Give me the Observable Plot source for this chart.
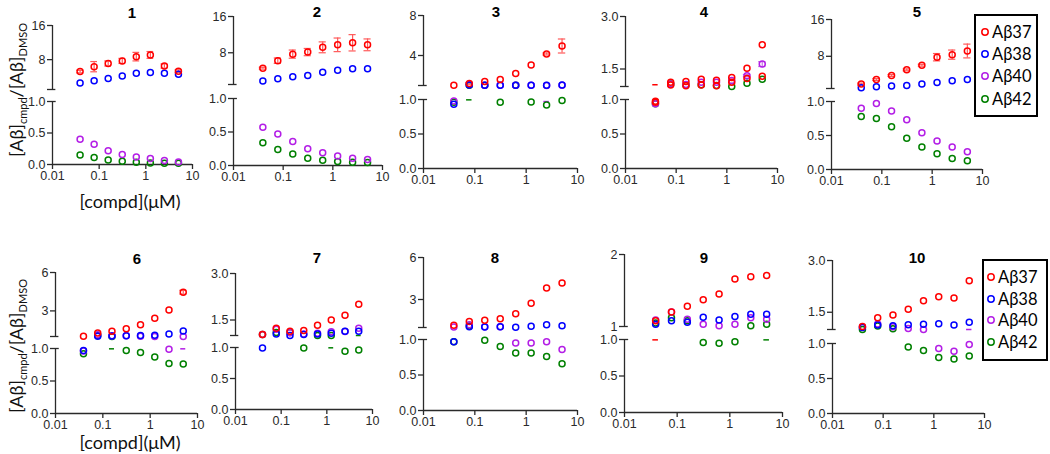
<!DOCTYPE html>
<html><head><meta charset="utf-8">
<script src="https://cdn.jsdelivr.net/npm/d3@7"></script>
<script src="https://cdn.jsdelivr.net/npm/@observablehq/plot@0.6"></script>
<style>
body{margin:0;background:#fff;}
#fig{position:relative;width:1050px;height:454px;overflow:hidden;font-family:"Liberation Sans",Arial,sans-serif;background:#fff;}
.ttl{position:absolute;transform:translate(-50%,-50%);font-weight:bold;font-size:15px;line-height:1;color:#000;}
.ylab{position:absolute;transform:translate(-50%,-50%) rotate(-90deg);font-family:Lato,sans-serif;font-size:18px;line-height:1;white-space:nowrap;color:#111;}
.ylab sub{font-size:11px;vertical-align:-4px;}
.xlab{position:absolute;transform:translate(-50%,-50%);font-family:Lato,sans-serif;font-size:18px;line-height:1;white-space:nowrap;color:#111;}
.legend{position:absolute;border:2px solid #000;box-sizing:border-box;background:#fff;}
.lgtext{position:absolute;transform:translateY(-50%);font-family:Lato,sans-serif;font-size:16.5px;line-height:1;white-space:nowrap;color:#000;}
</style></head>
<body><div id="fig"></div>
<script>
// ---------------- data ----------------
const conc = [0.039, 0.078, 0.156, 0.3125, 0.625, 1.25, 2.5, 5];
const seriesNames = ["Aβ37", "Aβ38", "Aβ40", "Aβ42"];
const panelTitles = ["1","2","3","4","5","6","7","8","9","10"];
const topTicks = [[1,8,16],[1,8,16],[1,4,8],[1,1.5,3],[1,8,16],[1,3,6],[1,1.5,3],[1,3,6],[1,2],[1,1.5,3]];
const topTickLabels = [["","8","16"],["","8","16"],["","4","8"],["","1.5","3.0"],["","8","16"],["","3","6"],["","1.5","3.0"],["","3","6"],["1","2"],["","1.5","3.0"]];
const bottomTicks = [0, 0.5, 1];
const bottomTickLabels = ["0.0", "0.5", "1.0"];
const xTicks = [0.01, 0.1, 1, 10];
const xTickLabels = ["0.01", "0.1", "1", "10"];

const ab37 = [
  [5.2, 6.35, 7.1, 7.7, 8.7, 9.1, 6.5, 5.3],
  [4.6, 6.25, 7.7, 8.15, 9.2, 9.75, 10.2, 9.75],
  [1.02, 1.2, 1.4, 1.6, 2.2, 3.05, 4.15, 4.95],
  [0.975, 1.12, 1.14, 1.21, 1.18, 1.26, 1.52, 2.19],
  [1.96, 2.96, 3.83, 5.05, 6.06, 7.8, 8.36, 9.15],
  [1.01, 1.28, 1.41, 1.6, 1.91, 2.42, 3.08, 4.46],
  [1.03, 1.23, 1.14, 1.16, 1.33, 1.5, 1.65, 2.01],
  [1.16, 1.42, 1.51, 1.63, 1.98, 2.74, 3.83, 4.18],
  [1.08, 1.2, 1.28, 1.37, 1.45, 1.66, 1.69, 1.71],
  [1.09, 1.34, 1.42, 1.59, 1.83, 1.95, 1.91, 2.41]
];
const ab37err = [
  [0.3, 1.2, 0.6, 0.6, 1.0, 0.8, 0.5, 0.3],
  [0.2, 0.6, 0.9, 0.8, 1.2, 1.5, 1.8, 1.3],
  [0, 0.08, 0, 0, 0, 0, 0.1, 0.7],
  [0, 0, 0, 0, 0, 0, 0, 0],
  [0.2, 0.2, 0.2, 0.2, 0.2, 0.8, 1.0, 1.5],
  [0, 0, 0, 0, 0, 0, 0, 0.15],
  [0, 0, 0, 0, 0, 0, 0, 0],
  [0, 0, 0, 0, 0, 0, 0, 0],
  [0, 0, 0, 0, 0, 0, 0, 0],
  [0, 0, 0, 0, 0, 0, 0, 0]
];
const ab38 = [
  [2.5, 3.05, 3.6, 4.15, 4.8, 5.0, 4.8, 4.55],
  [1.75, 2.25, 2.7, 3.0, 3.7, 4.15, 4.45, 4.45],
  [0.93, 1.05, 1.02, 1.02, 1.02, 1.02, 1.02, 1.06],
  [0.96, 1.04, 1.02, 1.04, 1.02, 1.12, 1.23, 1.29],
  [1.17, 1.38, 1.53, 1.67, 1.96, 2.3, 2.68, 2.96],
  [0.97, 1.02, 1.03, 1.06, 1.08, 1.1, 1.2, 1.43],
  [0.99, 1.05, 1.0, 1.03, 1.05, 1.07, 1.14, 1.14],
  [0.97, 1.06, 1.04, 1.06, 1.02, 1.09, 1.2, 1.13],
  [1.03, 1.08, 1.06, 1.13, 1.09, 1.14, 1.17, 1.17],
  [1.06, 1.13, 1.11, 1.14, 1.15, 1.17, 1.13, 1.21]
];
const ab40 = [
  [0.40, 0.32, 0.22, 0.16, 0.12, 0.095, 0.063, 0.04],
  [0.57, 0.47, 0.36, 0.25, 0.19, 0.14, 0.11, 0.09],
  [0.98, 1.1, 1.03, 1.02, 1.02, 1.02, 1.0, 1.02],
  [0.94, 1.07, 1.06, 1.12, 1.12, 1.17, 1.31, 1.64],
  [0.90, 0.97, 0.86, 0.73, 0.54, 0.42, 0.33, 0.26],
  [0.96, 1.14, 1.05, 1.05, 1.01, 1.0, 0.99, 1.0],
  [1.03, 1.2, 1.09, 1.05, 1.07, 1.12, 1.13, 1.23],
  [1.04, 1.2, 1.05, 1.05, 0.95, 0.95, 0.97, 0.86],
  [1.09, 1.2, 1.1, 1.03, 1.01, 1.03, 1.12, 1.1],
  [1.07, 1.16, 1.08, 1.03, 1.0, 0.93, 0.89, 0.985]
];
const ab40err = [
  [0,0,0,0,0,0,0,0],[0,0,0,0,0,0,0,0],[0,0,0,0,0,0,0,0],
  [0, 0, 0, 0, 0, 0, 0.03, 0.07],
  [0,0,0,0,0,0,0,0],[0,0,0,0,0,0,0,0],[0,0,0,0,0,0,0,0],
  [0,0,0,0,0,0,0,0],[0,0,0,0,0,0,0,0],[0,0,0,0,0,0,0,0]
];
const ab42 = [
  [0.15, 0.11, 0.07, 0.05, 0.035, 0.025, 0.02, 0.02],
  [0.34, 0.24, 0.17, 0.11, 0.08, 0.06, 0.05, 0.045],
  [0.96, 1.02, 1.03, 0.96, 1.03, 0.965, 0.92, 0.985],
  [0.94, 1.07, 1.04, 1.05, 1.03, 1.0, 1.09, 1.21],
  [0.78, 0.75, 0.63, 0.46, 0.33, 0.23, 0.16, 0.13],
  [0.92, 1.1, 1.0, 0.97, 0.94, 0.87, 0.77, 0.76],
  [1.03, 1.1, 1.1, 0.99, 1.0, 1.0, 0.94, 0.96],
  [0.97, 1.1, 0.99, 0.9, 0.81, 0.81, 0.76, 0.66],
  [1.05, 1.12, 1.08, 0.96, 0.95, 0.97, 1.01, 1.03],
  [1.0, 1.1, 1.02, 0.95, 0.9, 0.8, 0.78, 0.82]
];
// short error-bar caps of points drawn in the other axis segment
const capPanel = [3, 3, 4, 6, 6, 7, 7, 9, 9, 10];
const capConc = [1, 6, 0, 2, 7, 5, 7, 0, 7, 7];
const capSeries = [3, 2, 0, 3, 2, 3, 3, 0, 3, 2];
const capValue = [0.995, 0.97, 1.05, 0.995, 0.995, 0.995, 1.0, 0.995, 0.995, 1.0];
const capSegment = ["bottom","bottom","top","bottom","bottom","bottom","top","bottom","bottom","top"];

// ---------------- style / layout ----------------
const seriesColors = ["#ff0000", "#0000ff", "#b31ee6", "#008000"];
const errColors = ["#ff5a5a", "#8080ff", "#c77be6", "#60a060"];
const colorOverride = {3: {1: "#ff0000"}}; // panel 4: Aβ38 drawn in red
const AXC = "#2a2a2a";
const layout = [
  {ax: 52, xe: 192, tm: 25, t1: 89, b1: 101, b0: 164, tx: 132, ty: 12},
  {ax: 233, xe: 382, tm: 16, t1: 84, b1: 98, b0: 165, tx: 317, ty: 11},
  {ax: 423, xe: 577, tm: 15, t1: 85, b1: 99, b0: 168, tx: 496, ty: 11},
  {ax: 625, xe: 777, tm: 16, t1: 86, b1: 99, b0: 168, tx: 704, ty: 11},
  {ax: 831, xe: 982, tm: 19, t1: 88, b1: 101, b0: 169, tx: 917, ty: 11},
  {ax: 55, xe: 197, tm: 272, t1: 336, b1: 348, b0: 413, tx: 137, ty: 258},
  {ax: 235, xe: 372, tm: 273, t1: 335, b1: 347, b0: 409, tx: 317, ty: 257},
  {ax: 423, xe: 577, tm: 257, t1: 327, b1: 339, b0: 410, tx: 495, ty: 257},
  {ax: 624, xe: 782, tm: 254, t1: 326, b1: 339, b0: 412, tx: 704, ty: 257},
  {ax: 832, xe: 984, tm: 260, t1: 329, b1: 343, b0: 413, tx: 917, ty: 257}
];

const fig = document.getElementById("fig");
const allSeries = [ab37, ab38, ab40, ab42];
const zeros = ab37.map(r => r.map(() => 0));
const allErr = [ab37err, zeros, ab40err, zeros];
const colorFor = (p, s) => (colorOverride[p] && colorOverride[p][s]) || seriesColors[s];

function place(el, left, top) {
  el.style.position = "absolute";
  el.style.left = left + "px";
  el.style.top = top + "px";
  fig.appendChild(el);
}
function div(cls, html, left, top) {
  const d = document.createElement("div");
  d.className = cls; d.innerHTML = html;
  place(d, left, top);
  return d;
}

const ML = 40, MR = 14;
const baseStyle = {background: "transparent", overflow: "visible", fontFamily: "'Liberation Sans', Arial, sans-serif", fontSize: "12.5px", color: AXC};

for (let p = 0; p < 10; p++) {
  const g = layout[p];
  const rowTop = p < 5 ? 0 : 230;
  const W = ML + (g.xe - g.ax) + MR;
  const tt = topTicks[p];
  const tmax = tt[tt.length - 1];
  const tMap = new Map(tt.map((d, i) => [d, topTickLabels[p][i]]));
  const bMap = new Map(bottomTicks.map((d, i) => [d, bottomTickLabels[i]]));
  const xMap = new Map(xTicks.map((d, i) => [d, xTickLabels[i]]));

  const rows = [];
  for (const s of [3, 2, 1, 0]) for (let i = 0; i < conc.length; i++)
    rows.push({c: conc[i], v: allSeries[s][p][i], e: allErr[s][p][i], color: colorFor(p, s), ec: errColors[s]});
  const caps = [];
  capPanel.forEach((pp, k) => { if (pp === p + 1) caps.push({c: conc[capConc[k]], v: capValue[k], seg: capSegment[k], color: colorFor(p, capSeries[k])}); });

  const segMarks = (data, capData) => {
    const er = data.filter(d => d.e > 0);
    const erCaps = er.flatMap(d => [{c: d.c, y: d.v - d.e, ec: d.ec}, {c: d.c, y: d.v + d.e, ec: d.ec}]);
    return [
      Plot.ruleX(er, {x: "c", y1: d => d.v - d.e, y2: d => d.v + d.e, stroke: "ec", strokeWidth: 1.2}),
      Plot.ruleY(erCaps, {y: "y", x1: d => d.c / 1.18, x2: d => d.c * 1.18, stroke: "ec", strokeWidth: 1.2}),
      Plot.ruleY(capData, {y: "v", x1: d => d.c / 1.13, x2: d => d.c * 1.13, stroke: "color", strokeWidth: 1.5}),
      Plot.dot(data, {x: "c", y: "v", stroke: "color", r: 3, strokeWidth: 1.5})
    ];
  };

  // top segment of the broken y axis
  const topPlot = Plot.plot({
    width: W, height: g.t1 - rowTop + 10,
    marginLeft: ML, marginRight: MR, marginTop: g.tm - rowTop, marginBottom: 10,
    style: baseStyle,
    x: {type: "log", domain: [0.01, 10], axis: null, label: null},
    y: {domain: [1, tmax], label: null},
    color: {type: "identity"},
    marks: [
      Plot.ruleX([0.01], {y1: 1, y2: tmax, stroke: AXC, strokeWidth: 1.3}),
      Plot.ruleY([1], {x1: 0.01, x2: 0.0118, stroke: AXC, strokeWidth: 1.3}),
      Plot.axisY({ticks: tt, tickFormat: d => tMap.get(d), tickSize: 5, tickPadding: 2, label: null, strokeWidth: 1.3}),
      ...segMarks(rows.filter(d => d.v >= 1), caps.filter(d => d.seg === "top"))
    ]
  });
  place(topPlot, g.ax - ML, rowTop);

  // bottom segment with the x axis
  const botPlot = Plot.plot({
    width: W, height: 10 + (g.b0 - g.b1) + 30,
    marginLeft: ML, marginRight: MR, marginTop: 10, marginBottom: 30,
    style: baseStyle,
    x: {type: "log", domain: [0.01, 10], label: null},
    y: {domain: [0, 1], label: null},
    color: {type: "identity"},
    marks: [
      Plot.ruleX([0.01], {y1: 0, y2: 1, stroke: AXC, strokeWidth: 1.3}),
      Plot.ruleY([0], {x1: 0.01, x2: 10, stroke: AXC, strokeWidth: 1.3}),
      Plot.ruleY([1], {x1: 0.01, x2: 0.012, stroke: AXC, strokeWidth: 1.3}),
      Plot.axisY({ticks: bottomTicks, tickFormat: d => bMap.get(d), tickSize: 5, tickPadding: 2, label: null, strokeWidth: 1.3}),
      Plot.axisX({ticks: xTicks, tickFormat: d => xMap.get(d), tickSize: 5, tickPadding: 2, label: null, strokeWidth: 1.3}),
      ...segMarks(rows.filter(d => d.v < 1), caps.filter(d => d.seg === "bottom"))
    ]
  });
  place(botPlot, g.ax - ML, g.b1 - 10);

  div("ttl", panelTitles[p], g.tx, g.ty);
}

// axis titles
const yTitle = "[Aβ]<sub>cmpd</sub>/[Aβ]<sub>DMSO</sub>";
div("ylab", yTitle, 17, 90);
div("ylab", yTitle, 17, 346);
div("xlab", "[compd](μM)", 130, 201);
div("xlab", "[compd](μM)", 130, 442);

// legends
function legend(left, top, w, h, cx, tx, ys) {
  const box = document.createElement("div");
  box.className = "legend";
  box.style.width = w + "px"; box.style.height = h + "px";
  place(box, left, top);
  seriesNames.forEach((name, s) => {
    const ns = "http://www.w3.org/2000/svg";
    const svg = document.createElementNS(ns, "svg");
    svg.setAttribute("width", 10); svg.setAttribute("height", 10);
    const c = document.createElementNS(ns, "circle");
    c.setAttribute("cx", 5); c.setAttribute("cy", 5); c.setAttribute("r", 3.2);
    c.setAttribute("fill", "none"); c.setAttribute("stroke", seriesColors[s]); c.setAttribute("stroke-width", 1.5);
    svg.appendChild(c);
    place(svg, cx - 5, ys[s] - 5);
    div("lgtext", name, tx, ys[s]);
  });
}
legend(974, 14, 64, 103, 985, 992, [32, 54, 76, 99]);
legend(982, 259, 66, 102, 991, 998, [277, 299, 320, 342]);
</script>
</body></html>
